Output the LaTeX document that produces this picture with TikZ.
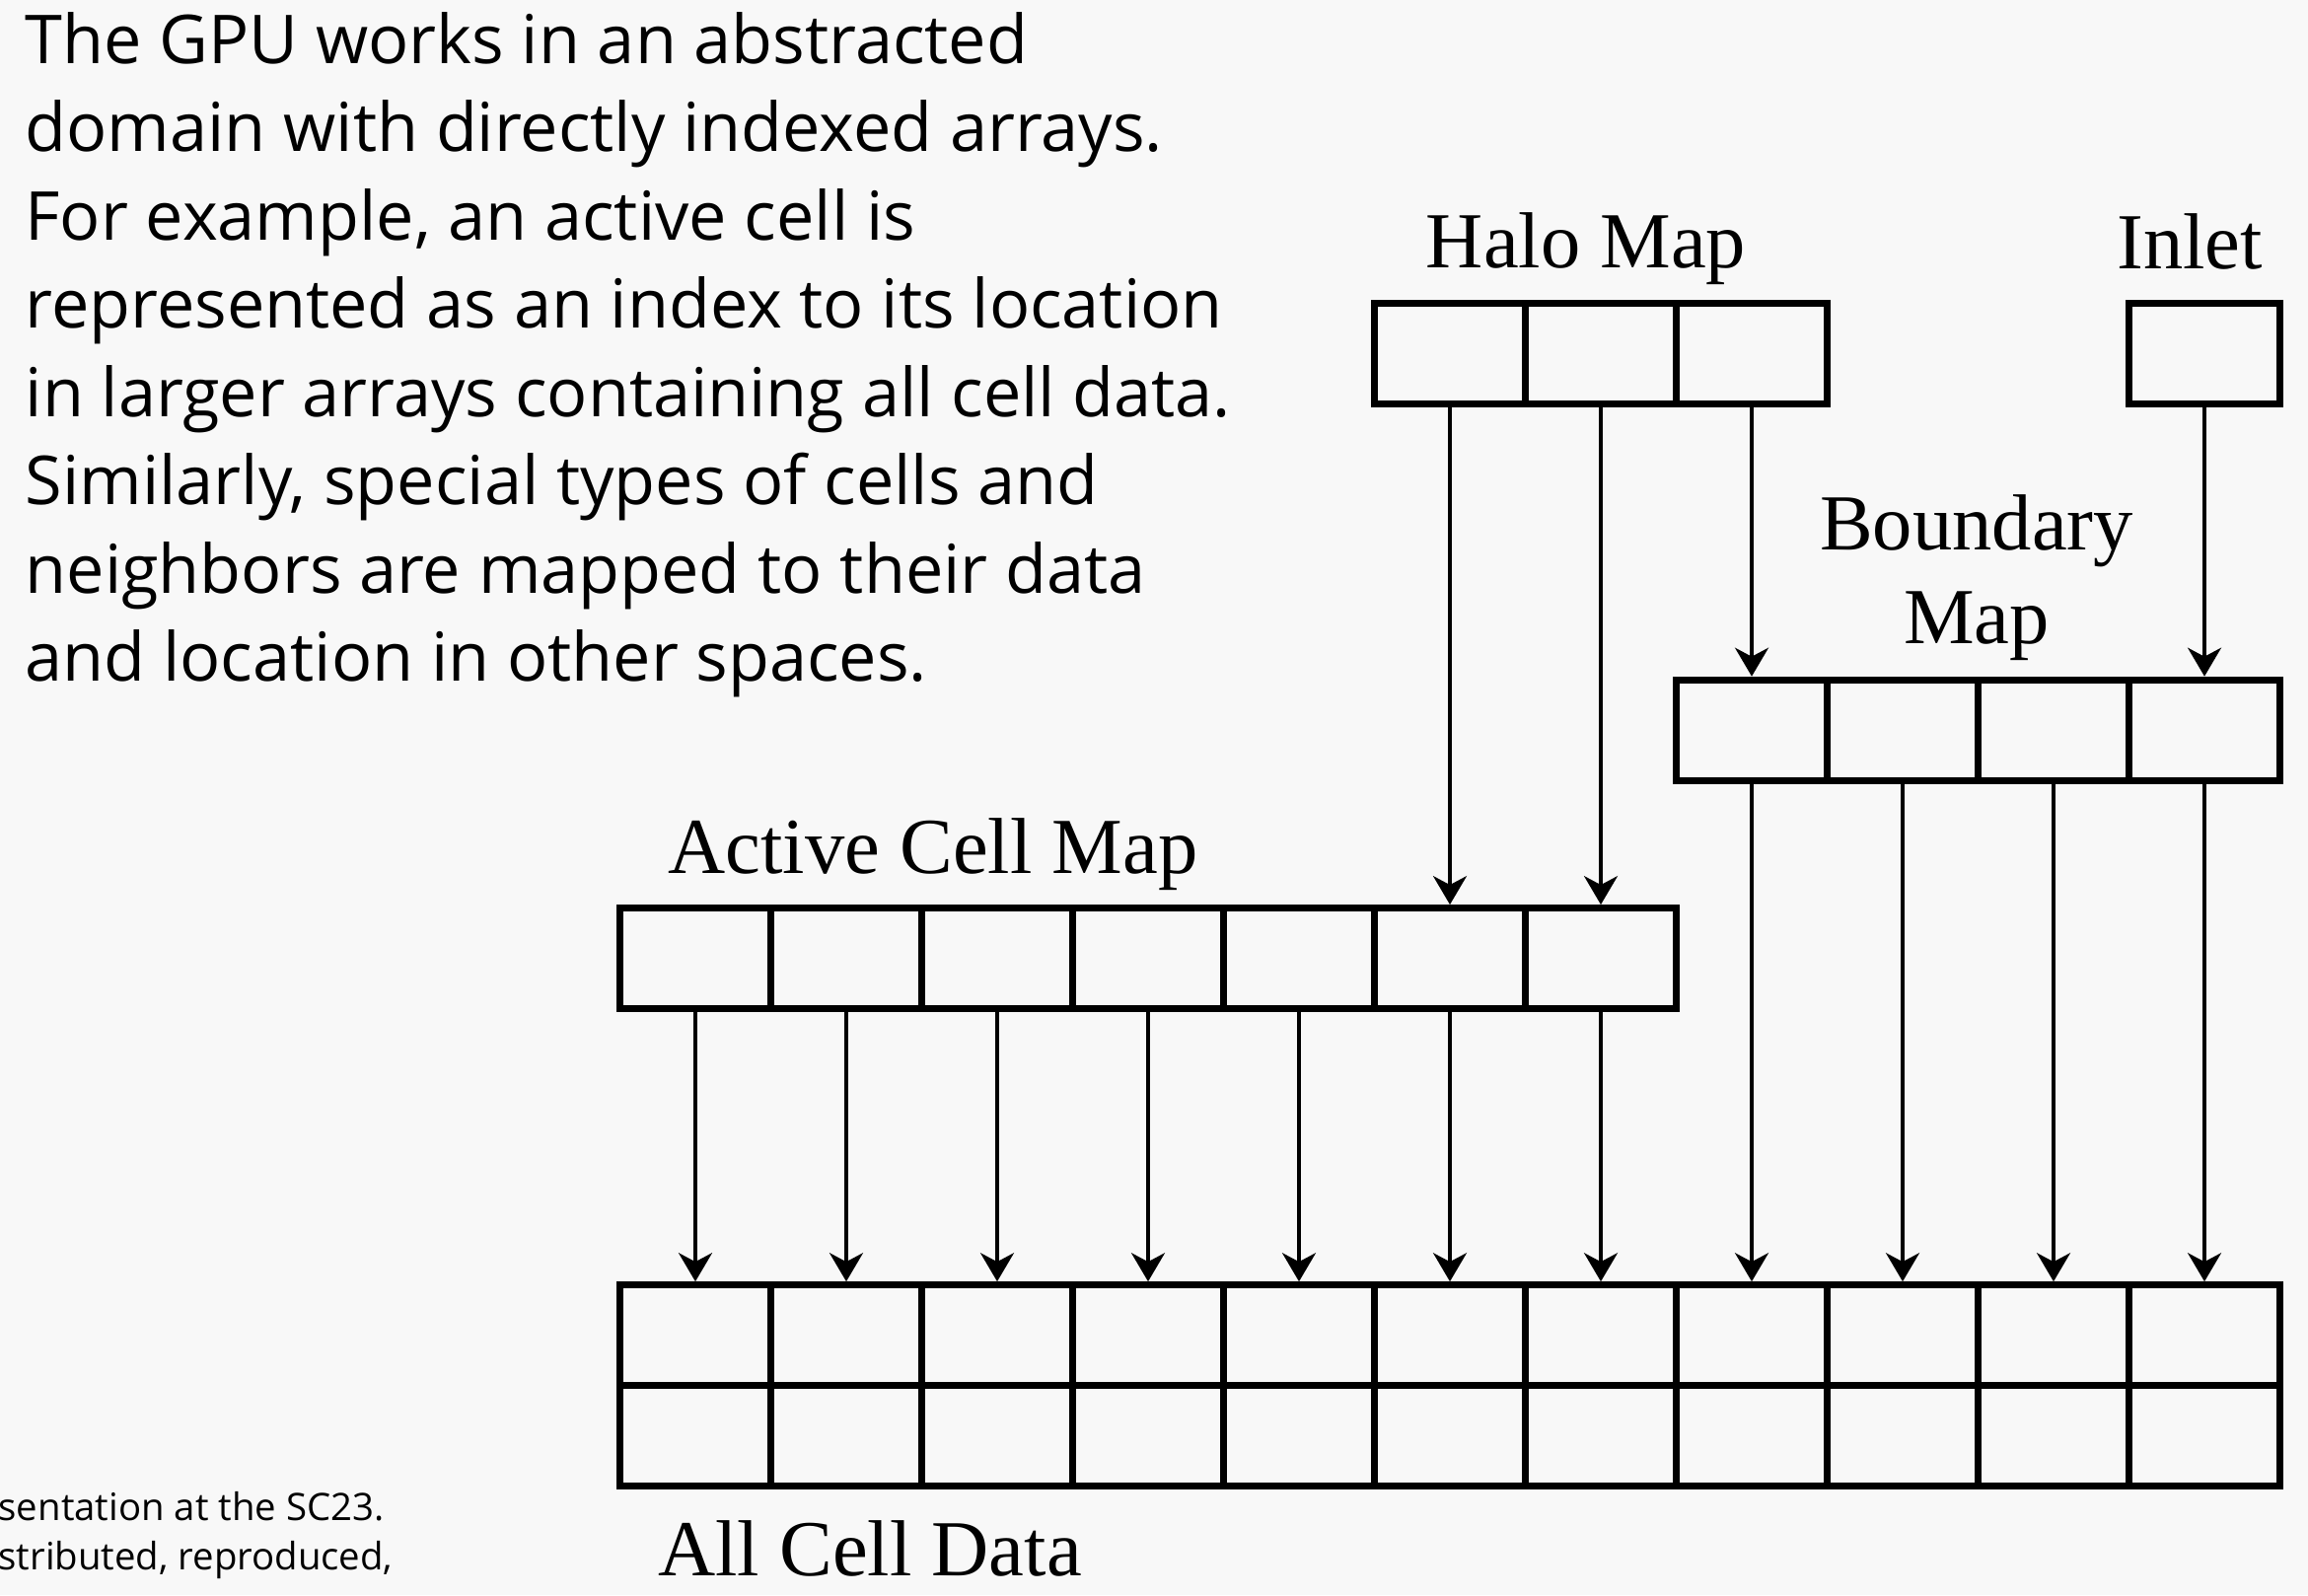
\documentclass[tikz,border=0pt]{standalone}
\usepackage{fontspec}
\setmainfont{Liberation Serif}
\newfontfamily\uifont{Open Sans}
\usetikzlibrary{arrows.meta}
\definecolor{pagebg}{RGB}{248,248,248}

\begin{document}
\begin{tikzpicture}[x=0.01cm, y=-0.01cm,
  cellbox/.style={draw=black, line width=0.07cm, minimum width=1.53cm,
    minimum height=1.02cm, inner sep=0pt},
  link/.style={line width=0.033cm,
    -{Stealth[length=0.29cm, width=0.34cm, inset=0.09cm]}},
  maplabel/.style={font=\fontsize{22.9}{27}\selectfont, anchor=base, inner sep=0pt},
  bodytext/.style={font=\uifont\fontsize{19.45}{25.5}\selectfont, anchor=base west, inner sep=0pt},
  notetext/.style={font=\uifont\fontsize{10.9}{14}\selectfont, anchor=base west, inner sep=0pt}]

% page
\fill[pagebg] (0,0) rectangle (2340,1617);
\useasboundingbox (0,0) rectangle (2340,1617);
\clip (0,0) rectangle (2340,1617);

% explanatory text
\node[bodytext] (t1) at (25,64)    {The GPU works in an abstracted};
\node[bodytext] (t2) at (25,153.5) {domain with directly indexed arrays.};
\node[bodytext] (t3) at (25,243)   {For example, an active cell is};
\node[bodytext] (t4) at (25,332.5) {represented as an index to its location};
\node[bodytext] (t5) at (25,422)   {in larger arrays containing all cell data.};
\node[bodytext] (t6) at (25,511.5) {Similarly, special types of cells and};
\node[bodytext] (t7) at (25,601)   {neighbors are mapped to their data};
\node[bodytext] (t8) at (25,690.5) {and location in other spaces.};

% footer note
\node[notetext] (n1) at (-2,1541.5) {sentation at the SC23.};
\node[notetext] (n2) at (-2,1591)   {stributed, reproduced,};

% all cell data: two rows of eleven cells
\foreach \k in {0,...,10} {
  \node[cellbox] (d\k) at ({705+153*\k},1353.7) {};
  \node[cellbox] (e\k) at ({705+153*\k},1455.7) {};
}
% active cell map
\foreach \k in {0,...,6}
  \node[cellbox] (a\k) at ({705+153*\k},971.6) {};
% boundary map
\foreach \k in {0,...,3}
  \node[cellbox] (b\k) at ({705+153*(\k+7)},740.2) {};
% halo map
\foreach \k in {0,...,2}
  \node[cellbox] (h\k) at ({705+153*(\k+5)},358.2) {};
% inlet
\node[cellbox] (inlet) at (2235,358.2) {};

% labels
\node[maplabel] (halolbl)  at (1608,271.6) {Halo Map};
\node[maplabel] (inletlbl) at (2220,272)   {Inlet};
\node[maplabel] (bndlbl1)  at (2004,557)   {Boundary};
\node[maplabel] (bndlbl2)  at (2004,652)   {Map};
\node[maplabel] (actlbl)   at (946,885)    {Active Cell Map};
\node[maplabel] (alllbl)   at (882,1597)   {All Cell Data};

% index links
\foreach \k in {0,...,6}
  \draw[link] (a\k.south) -- (d\k.north);
\foreach \s/\t in {b0/d7, b1/d8, b2/d9, b3/d10}
  \draw[link] (\s.south) -- (\t.north);
\foreach \s/\t in {h0/a5, h1/a6, h2/b0, inlet/b3}
  \draw[link] (\s.south) -- (\t.north);
\end{tikzpicture}
\end{document}
